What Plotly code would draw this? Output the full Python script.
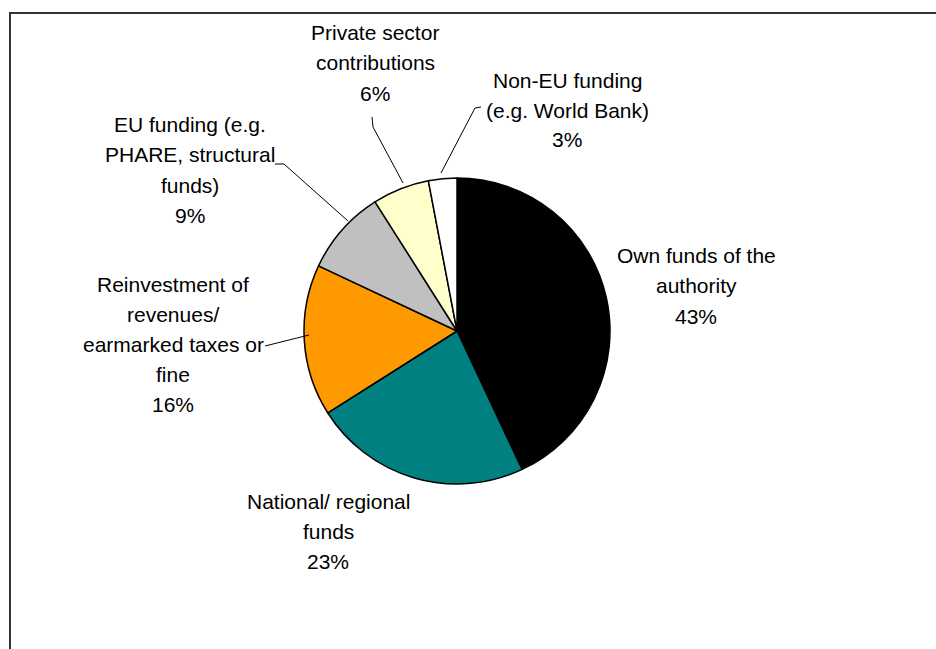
import plotly.graph_objects as go

# Sources of funding, clockwise from 12 o'clock
labels = [
    "Own funds of the<br>authority",
    "National/ regional<br>funds",
    "Reinvestment of<br>revenues/<br>earmarked taxes or<br>fine",
    "EU funding (e.g.<br>PHARE, structural<br>funds)",
    "Private sector<br>contributions",
    "Non-EU funding<br>(e.g. World Bank)",
]
shares = [43, 23, 16, 9, 6, 3]
colors = ["#000000", "#008080", "#FF9900", "#C0C0C0", "#FFFFCC", "#FFFFFF"]

W, H = 936, 649


def px(x):
    return x / W


def py(y):
    return 1 - y / H


# Pie geometry (pixels)
cx, cy, r = 457, 331, 153

fig = go.Figure(
    go.Pie(
        labels=[l.replace("<br>", " ") for l in labels],
        values=shares,
        sort=False,
        direction="clockwise",
        rotation=0,
        marker=dict(colors=colors, line=dict(color="#000000", width=1.5)),
        textinfo="none",
        hovertemplate="%{label}: %{value}%<extra></extra>",
        showlegend=False,
        domain=dict(x=[px(cx - r), px(cx + r)], y=[py(cy + r), py(cy - r)]),
    )
)

# Label block centres (pixels) and line pitch
label_pos = [(696, 286), (328, 531), (173, 344), (190, 170), (375, 63), (567, 110)]
line_pitch = 30

annotations = []
for lab, val, (x, y) in zip(labels, shares, label_pos):
    lines = lab.split("<br>") + [f"{val}%"]
    n = len(lines)
    for i, line in enumerate(lines):
        ly = y + (i - (n - 1) / 2) * line_pitch
        annotations.append(
            dict(
                x=px(x), y=py(ly), xref="paper", yref="paper",
                text=line, showarrow=False,
                xanchor="center", yanchor="middle", align="center",
                font=dict(family="Liberation Sans, Arial, sans-serif", size=21, color="#000000"),
            )
        )

# Leader lines from labels to their slices (pixels)
leaders = [
    [(275, 164), (284, 164), (348, 221)],
    [(265, 346), (273, 344), (309, 335)],
    [(372, 117), (373, 127), (403, 183)],
    [(481, 107), (475, 108), (441, 173)],
]

shapes = []
for pts in leaders:
    path = "M " + " L ".join(f"{px(x)},{py(y)}" for x, y in pts)
    shapes.append(dict(type="path", xref="paper", yref="paper", path=path,
                       line=dict(color="#000000", width=1)))

# Chart frame (runs off the right and bottom edges)
shapes.append(dict(type="rect", xref="paper", yref="paper",
                   x0=px(10), y0=py(700), x1=px(1000), y1=py(13),
                   line=dict(color="#333333", width=2), fillcolor="rgba(0,0,0,0)"))

fig.update_layout(
    width=W, height=H,
    margin=dict(l=0, r=0, t=0, b=0),
    paper_bgcolor="#FFFFFF",
    plot_bgcolor="#FFFFFF",
    annotations=annotations,
    shapes=shapes,
)

fig.write_html("out.html")
